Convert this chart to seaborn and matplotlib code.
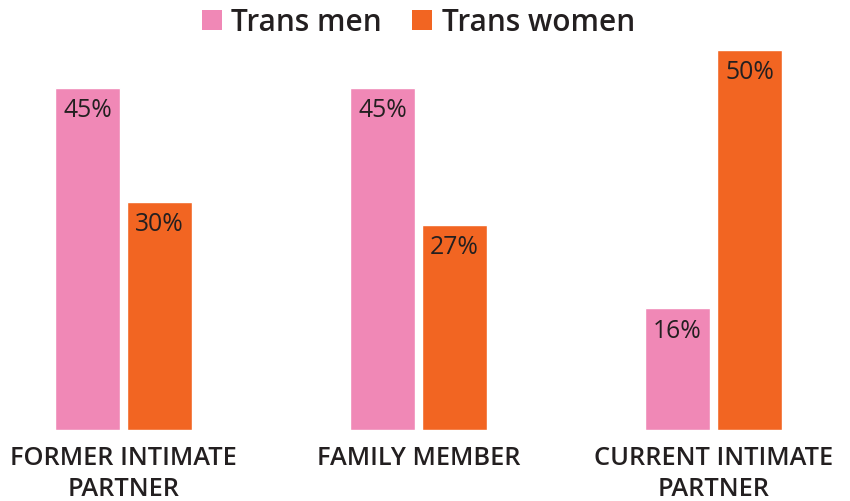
import pandas as pd
import matplotlib.pyplot as plt
import seaborn as sns
from matplotlib.patches import Patch

# data
categorias = ["FORMER INTIMATE\nPARTNER", "FAMILY MEMBER", "CURRENT INTIMATE\nPARTNER"]
grupos = ["Trans men", "Trans women"]
trans_men = [45, 45, 16]
trans_women = [30, 27, 50]

colores = {"Trans men": "#F088B6", "Trans women": "#F26522"}
texto = "#231F20"

df = pd.DataFrame({
    "categoria": categorias * 2,
    "grupo": [grupos[0]] * 3 + [grupos[1]] * 3,
    "valor": trans_men + trans_women,
})

sns.set_style("white")
plt.rcParams["font.family"] = ["Open Sans", "DejaVu Sans"]

fig = plt.figure(figsize=(8.5, 5.01), dpi=100)
ax = fig.add_axes([0, 71 / 501, 1, 380 / 501])

sns.barplot(data=df, x="categoria", y="valor", hue="grupo", order=categorias,
            hue_order=grupos, palette=colores, width=0.488, gap=0.097,
            saturation=1, legend=False, ax=ax)

ax.set_xlim(-123.5 / 295, (850 - 123.5) / 295)
ax.set_ylim(0, 50)

# etiquetas dentro de las barras
for cont in ax.containers:
    for p in cont:
        h = p.get_height()
        ax.annotate(f"{h:.0f}%", (p.get_x() + p.get_width() / 2, h),
                    xytext=(0, -16.5), textcoords="offset points",
                    ha="center", va="center", fontsize=17.8, color=texto)

ax.set_xlabel("")
ax.set_ylabel("")
ax.set_yticks([])
ax.tick_params(axis="x", length=0, pad=11.5)
for lbl in ax.get_xticklabels():
    lbl.set_fontsize(18.3)
    lbl.set_fontweight(600)
    lbl.set_color(texto)
    lbl.set_linespacing(1.3)
    lbl.set_verticalalignment("top")
sns.despine(ax=ax, left=True, bottom=True)

handles = [Patch(facecolor=colores[g], edgecolor="none") for g in grupos]
fig.legend(handles, grupos, loc="center", bbox_to_anchor=(0.492, 0.955),
           ncol=2, frameon=False, handlelength=0.68, handleheight=0.68,
           handletextpad=0.32, columnspacing=1.01,
           prop={"size": 21.4, "weight": 600}, labelcolor=texto)

plt.savefig("out.png", dpi=100)
